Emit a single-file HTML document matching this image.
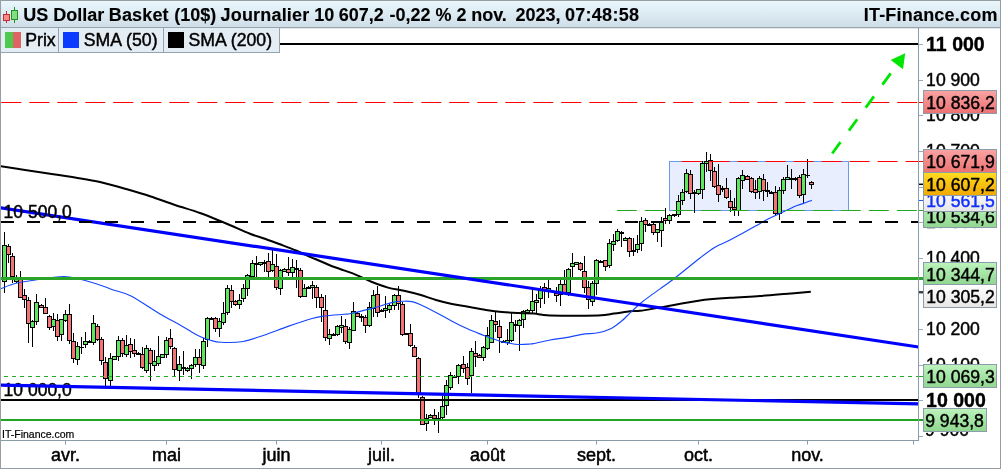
<!DOCTYPE html>
<html lang="fr"><head><meta charset="utf-8"><title>US Dollar Basket (10$) Journalier</title>
<style>
html,body{margin:0;padding:0;background:#fff;}
body{width:1001px;height:469px;overflow:hidden;}
svg{display:block;font-family:"Liberation Sans",Arial,Helvetica,sans-serif;}
.ax{font-size:17.6px;fill:#000;stroke:#000;stroke-width:0.45px;}
.axb{font-size:19.5px;font-weight:bold;fill:#000;stroke:#000;stroke-width:0.4px;}
.mo{font-size:18px;fill:#000;text-anchor:middle;stroke:#000;stroke-width:0.5px;}
.ttl{font-size:18px;font-weight:bold;fill:#000;letter-spacing:0.1px;stroke:#000;stroke-width:0.12px;}
.lg{font-size:17.7px;fill:#000;stroke:#000;stroke-width:0.45px;}
.pl{font-size:17.6px;fill:#000;stroke-width:0.45px;}
.sm{font-size:10.5px;fill:#000;stroke:#000;stroke-width:0.2px;}
</style></head><body>
<svg width="1001" height="469" viewBox="0 0 1001 469">
<defs>
<linearGradient id="gT" x1="0" y1="0" x2="0" y2="1"><stop offset="0" stop-color="#e9f7fd"/><stop offset="1" stop-color="#cfdde8"/></linearGradient>
<linearGradient id="gR" x1="0" y1="0" x2="0" y2="1"><stop offset="0" stop-color="#f9a3a3"/><stop offset="1" stop-color="#ee7272"/></linearGradient>
<linearGradient id="gG" x1="0" y1="0" x2="0" y2="1"><stop offset="0" stop-color="#bdf3bd"/><stop offset="1" stop-color="#8fd68f"/></linearGradient>
<linearGradient id="gO" x1="0" y1="0" x2="0" y2="1"><stop offset="0" stop-color="#ffdc22"/><stop offset="1" stop-color="#f2a800"/></linearGradient>
<linearGradient id="gW" x1="0" y1="0" x2="0" y2="1"><stop offset="0" stop-color="#ffffff"/><stop offset="1" stop-color="#e6e6e6"/></linearGradient>
<clipPath id="cp"><rect x="1" y="28" width="917.5" height="412.5"/></clipPath>
<clipPath id="cpa"><rect x="919" y="28" width="81" height="413"/></clipPath>
</defs>
<rect x="0" y="0" width="1001" height="469" fill="#ffffff"/>
<g clip-path="url(#cp)">
<rect x="669.5" y="161.5" width="179" height="49" fill="#e8eefd" stroke="#6a9af0" stroke-width="1"/>
<g stroke="#000" stroke-width="1" shape-rendering="crispEdges">
<line x1="4.5" y1="232" x2="4.5" y2="293"/>
<rect x="2.5" y="245.5" width="4" height="36.0" fill="#5fe65f"/>
<line x1="8.5" y1="244" x2="8.5" y2="263"/>
<rect x="6.5" y="246.5" width="4" height="8.0" fill="#f27474"/>
<line x1="12.5" y1="253" x2="12.5" y2="283"/>
<rect x="10.5" y="256.5" width="4" height="20.0" fill="#f27474"/>
<line x1="16.5" y1="275" x2="16.5" y2="283"/>
<rect x="14.5" y="278.5" width="4" height="3.0" fill="#5fe65f"/>
<line x1="20.5" y1="271" x2="20.5" y2="298"/>
<rect x="18.5" y="279.5" width="4" height="18.0" fill="#f27474"/>
<line x1="24.5" y1="289" x2="24.5" y2="308"/>
<rect x="22.5" y="295.5" width="4" height="4.0" fill="#f27474"/>
<line x1="28.5" y1="297" x2="28.5" y2="343"/>
<rect x="26.5" y="300.5" width="4" height="23.0" fill="#f27474"/>
<line x1="32.5" y1="320" x2="32.5" y2="347"/>
<rect x="30.5" y="321.5" width="4" height="6.0" fill="#5fe65f"/>
<line x1="36.5" y1="294" x2="36.5" y2="325"/>
<rect x="34.5" y="302.5" width="4" height="19.0" fill="#5fe65f"/>
<line x1="41.5" y1="304" x2="41.5" y2="308"/>
<rect x="39.5" y="305.5" width="4" height="2.0" fill="#f27474"/>
<line x1="45.5" y1="298" x2="45.5" y2="314"/>
<rect x="43.5" y="307.5" width="4" height="6.0" fill="#f27474"/>
<line x1="49.5" y1="315" x2="49.5" y2="330"/>
<rect x="47.5" y="316.5" width="4" height="11.0" fill="#f27474"/>
<line x1="53.5" y1="313" x2="53.5" y2="331"/>
<rect x="51.5" y="319.5" width="4" height="7.0" fill="#5fe65f"/>
<line x1="57.5" y1="314" x2="57.5" y2="341"/>
<rect x="55.5" y="320.5" width="4" height="16.0" fill="#f27474"/>
<line x1="61.5" y1="319" x2="61.5" y2="341"/>
<rect x="59.5" y="319.5" width="4" height="15.0" fill="#5fe65f"/>
<line x1="65.5" y1="310" x2="65.5" y2="322"/>
<rect x="63.5" y="314.5" width="4" height="6.0" fill="#5fe65f"/>
<line x1="69.5" y1="304" x2="69.5" y2="344"/>
<rect x="67.5" y="314.5" width="4" height="26.0" fill="#f27474"/>
<line x1="73.5" y1="333" x2="73.5" y2="363"/>
<rect x="71.5" y="341.5" width="4" height="17.0" fill="#f27474"/>
<line x1="77.5" y1="342" x2="77.5" y2="365"/>
<rect x="75.5" y="346.5" width="4" height="13.0" fill="#5fe65f"/>
<line x1="81.5" y1="337" x2="81.5" y2="354"/>
<line x1="79.0" y1="347.5" x2="84.0" y2="347.5"/>
<line x1="85.5" y1="332" x2="85.5" y2="348"/>
<rect x="83.5" y="341.5" width="4" height="3.0" fill="#5fe65f"/>
<line x1="89.5" y1="340" x2="89.5" y2="343"/>
<rect x="87.5" y="341.0" width="4" height="1" fill="#000"/>
<line x1="93.5" y1="315" x2="93.5" y2="345"/>
<rect x="91.5" y="323.5" width="4" height="19.0" fill="#5fe65f"/>
<line x1="97.5" y1="324" x2="97.5" y2="341"/>
<rect x="95.5" y="326.5" width="4" height="13.0" fill="#f27474"/>
<line x1="101.5" y1="337" x2="101.5" y2="365"/>
<rect x="99.5" y="339.5" width="4" height="21.0" fill="#f27474"/>
<line x1="105.5" y1="357" x2="105.5" y2="386"/>
<rect x="103.5" y="362.5" width="4" height="16.0" fill="#f27474"/>
<line x1="110.5" y1="353" x2="110.5" y2="386"/>
<rect x="108.5" y="358.5" width="4" height="22.0" fill="#5fe65f"/>
<line x1="114.5" y1="356" x2="114.5" y2="359"/>
<rect x="112.5" y="356.5" width="4" height="3.0" fill="#5fe65f"/>
<line x1="118.5" y1="336" x2="118.5" y2="361"/>
<rect x="116.5" y="340.5" width="4" height="16.0" fill="#5fe65f"/>
<line x1="122.5" y1="338" x2="122.5" y2="357"/>
<rect x="120.5" y="340.5" width="4" height="13.0" fill="#f27474"/>
<line x1="126.5" y1="335" x2="126.5" y2="357"/>
<rect x="124.5" y="345.5" width="4" height="9.0" fill="#5fe65f"/>
<line x1="130.5" y1="338" x2="130.5" y2="358"/>
<rect x="128.5" y="344.5" width="4" height="7.0" fill="#f27474"/>
<line x1="134.5" y1="339" x2="134.5" y2="357"/>
<rect x="132.5" y="350.5" width="4" height="3.0" fill="#f27474"/>
<line x1="138.5" y1="352" x2="138.5" y2="355"/>
<rect x="136.5" y="353.0" width="4" height="1" fill="#000"/>
<line x1="142.5" y1="347" x2="142.5" y2="369"/>
<rect x="140.5" y="354.5" width="4" height="13.0" fill="#f27474"/>
<line x1="146.5" y1="345" x2="146.5" y2="373"/>
<rect x="144.5" y="348.5" width="4" height="22.0" fill="#5fe65f"/>
<line x1="150.5" y1="348" x2="150.5" y2="381"/>
<rect x="148.5" y="350.5" width="4" height="13.0" fill="#f27474"/>
<line x1="154.5" y1="350" x2="154.5" y2="371"/>
<rect x="152.5" y="361.5" width="4" height="4.0" fill="#5fe65f"/>
<line x1="158.5" y1="336" x2="158.5" y2="366"/>
<rect x="156.5" y="356.5" width="4" height="7.0" fill="#5fe65f"/>
<line x1="162.5" y1="354" x2="162.5" y2="358"/>
<rect x="160.5" y="354.5" width="4" height="3.0" fill="#5fe65f"/>
<line x1="166.5" y1="337" x2="166.5" y2="358"/>
<rect x="164.5" y="340.5" width="4" height="14.0" fill="#5fe65f"/>
<line x1="170.5" y1="329" x2="170.5" y2="349"/>
<rect x="168.5" y="338.5" width="4" height="8.0" fill="#f27474"/>
<line x1="174.5" y1="347" x2="174.5" y2="377"/>
<rect x="172.5" y="348.5" width="4" height="21.0" fill="#f27474"/>
<line x1="179.5" y1="356" x2="179.5" y2="381"/>
<rect x="177.5" y="364.5" width="4" height="6.0" fill="#5fe65f"/>
<line x1="183.5" y1="351" x2="183.5" y2="375"/>
<rect x="181.5" y="367.0" width="4" height="1" fill="#000"/>
<line x1="187.5" y1="367" x2="187.5" y2="372"/>
<rect x="185.5" y="368.5" width="4" height="2.0" fill="#5fe65f"/>
<line x1="191.5" y1="364" x2="191.5" y2="379"/>
<rect x="189.5" y="365.5" width="4" height="3.0" fill="#5fe65f"/>
<line x1="195.5" y1="349" x2="195.5" y2="367"/>
<rect x="193.5" y="357.5" width="4" height="7.0" fill="#5fe65f"/>
<line x1="199.5" y1="349" x2="199.5" y2="373"/>
<rect x="197.5" y="357.5" width="4" height="7.0" fill="#f27474"/>
<line x1="203.5" y1="338" x2="203.5" y2="369"/>
<rect x="201.5" y="341.5" width="4" height="24.0" fill="#5fe65f"/>
<line x1="207.5" y1="317" x2="207.5" y2="347"/>
<rect x="205.5" y="318.5" width="4" height="21.0" fill="#5fe65f"/>
<line x1="211.5" y1="317" x2="211.5" y2="320"/>
<rect x="209.5" y="318.0" width="4" height="1" fill="#000"/>
<line x1="215.5" y1="317" x2="215.5" y2="332"/>
<rect x="213.5" y="318.5" width="4" height="10.0" fill="#f27474"/>
<line x1="219.5" y1="318" x2="219.5" y2="337"/>
<rect x="217.5" y="321.5" width="4" height="7.0" fill="#5fe65f"/>
<line x1="223.5" y1="302" x2="223.5" y2="325"/>
<rect x="221.5" y="313.5" width="4" height="9.0" fill="#5fe65f"/>
<line x1="227.5" y1="285" x2="227.5" y2="315"/>
<rect x="225.5" y="288.5" width="4" height="24.0" fill="#5fe65f"/>
<line x1="231.5" y1="285" x2="231.5" y2="308"/>
<rect x="229.5" y="290.5" width="4" height="11.0" fill="#f27474"/>
<line x1="235.5" y1="300" x2="235.5" y2="306"/>
<rect x="233.5" y="301.5" width="4" height="3.0" fill="#f27474"/>
<line x1="239.5" y1="294" x2="239.5" y2="309"/>
<rect x="237.5" y="300.5" width="4" height="4.0" fill="#5fe65f"/>
<line x1="243.5" y1="284" x2="243.5" y2="302"/>
<rect x="241.5" y="288.5" width="4" height="10.0" fill="#5fe65f"/>
<line x1="247.5" y1="274" x2="247.5" y2="296"/>
<rect x="245.5" y="275.5" width="4" height="13.0" fill="#5fe65f"/>
<line x1="252.5" y1="260" x2="252.5" y2="277"/>
<rect x="250.5" y="263.5" width="4" height="13.0" fill="#5fe65f"/>
<line x1="256.5" y1="256" x2="256.5" y2="277"/>
<rect x="254.5" y="263.0" width="4" height="1" fill="#000"/>
<line x1="260.5" y1="262" x2="260.5" y2="266"/>
<rect x="258.5" y="262.5" width="4" height="2.0" fill="#5fe65f"/>
<line x1="264.5" y1="260" x2="264.5" y2="272"/>
<rect x="262.5" y="262.0" width="4" height="1" fill="#000"/>
<line x1="268.5" y1="253" x2="268.5" y2="277"/>
<rect x="266.5" y="261.5" width="4" height="10.0" fill="#f27474"/>
<line x1="272.5" y1="250" x2="272.5" y2="272"/>
<rect x="270.5" y="264.5" width="4" height="6.0" fill="#5fe65f"/>
<line x1="276.5" y1="254" x2="276.5" y2="290"/>
<rect x="274.5" y="266.5" width="4" height="21.0" fill="#f27474"/>
<line x1="280.5" y1="269" x2="280.5" y2="295"/>
<rect x="278.5" y="270.5" width="4" height="18.0" fill="#5fe65f"/>
<line x1="284.5" y1="268" x2="284.5" y2="272"/>
<rect x="282.5" y="269.5" width="4" height="2.0" fill="#5fe65f"/>
<line x1="288.5" y1="257" x2="288.5" y2="276"/>
<rect x="286.5" y="269.5" width="4" height="3.0" fill="#f27474"/>
<line x1="292.5" y1="259" x2="292.5" y2="277"/>
<rect x="290.5" y="267.5" width="4" height="5.0" fill="#5fe65f"/>
<line x1="296.5" y1="260" x2="296.5" y2="288"/>
<rect x="294.5" y="268.0" width="4" height="1" fill="#000"/>
<line x1="300.5" y1="268" x2="300.5" y2="298"/>
<rect x="298.5" y="270.5" width="4" height="26.0" fill="#f27474"/>
<line x1="304.5" y1="284" x2="304.5" y2="297"/>
<rect x="302.5" y="288.5" width="4" height="8.0" fill="#5fe65f"/>
<line x1="308.5" y1="286" x2="308.5" y2="289"/>
<rect x="306.5" y="287.0" width="4" height="1" fill="#000"/>
<line x1="312.5" y1="281" x2="312.5" y2="299"/>
<rect x="310.5" y="285.5" width="4" height="2.0" fill="#5fe65f"/>
<line x1="316.5" y1="285" x2="316.5" y2="308"/>
<rect x="314.5" y="287.5" width="4" height="10.0" fill="#f27474"/>
<line x1="321.5" y1="294" x2="321.5" y2="322"/>
<rect x="319.5" y="297.5" width="4" height="10.0" fill="#f27474"/>
<line x1="325.5" y1="295" x2="325.5" y2="341"/>
<rect x="323.5" y="310.5" width="4" height="27.0" fill="#f27474"/>
<line x1="329.5" y1="329" x2="329.5" y2="345"/>
<rect x="327.5" y="334.5" width="4" height="4.0" fill="#5fe65f"/>
<line x1="333.5" y1="333" x2="333.5" y2="336"/>
<rect x="331.5" y="334.0" width="4" height="1" fill="#000"/>
<line x1="337.5" y1="325" x2="337.5" y2="336"/>
<rect x="335.5" y="326.5" width="4" height="8.0" fill="#5fe65f"/>
<line x1="341.5" y1="316" x2="341.5" y2="333"/>
<rect x="339.5" y="325.5" width="4" height="2.0" fill="#5fe65f"/>
<line x1="345.5" y1="319" x2="345.5" y2="344"/>
<rect x="343.5" y="326.5" width="4" height="15.0" fill="#f27474"/>
<line x1="349.5" y1="327" x2="349.5" y2="349"/>
<rect x="347.5" y="329.5" width="4" height="13.0" fill="#5fe65f"/>
<line x1="353.5" y1="302" x2="353.5" y2="331"/>
<rect x="351.5" y="311.5" width="4" height="19.0" fill="#5fe65f"/>
<line x1="357.5" y1="312" x2="357.5" y2="317"/>
<rect x="355.5" y="313.5" width="4" height="3.0" fill="#f27474"/>
<line x1="361.5" y1="314" x2="361.5" y2="322"/>
<rect x="359.5" y="316.0" width="4" height="1" fill="#000"/>
<line x1="365.5" y1="315" x2="365.5" y2="333"/>
<rect x="363.5" y="317.5" width="4" height="8.0" fill="#f27474"/>
<line x1="369.5" y1="302" x2="369.5" y2="327"/>
<rect x="367.5" y="307.5" width="4" height="18.0" fill="#5fe65f"/>
<line x1="373.5" y1="290" x2="373.5" y2="317"/>
<rect x="371.5" y="295.5" width="4" height="13.0" fill="#5fe65f"/>
<line x1="377.5" y1="286" x2="377.5" y2="317"/>
<rect x="375.5" y="294.5" width="4" height="18.0" fill="#f27474"/>
<line x1="381.5" y1="309" x2="381.5" y2="312"/>
<rect x="379.5" y="310.0" width="4" height="1" fill="#000"/>
<line x1="385.5" y1="296" x2="385.5" y2="318"/>
<rect x="383.5" y="308.5" width="4" height="2.0" fill="#5fe65f"/>
<line x1="389.5" y1="304" x2="389.5" y2="313"/>
<rect x="387.5" y="305.5" width="4" height="4.0" fill="#5fe65f"/>
<line x1="394.5" y1="294" x2="394.5" y2="310"/>
<rect x="392.5" y="295.5" width="4" height="10.0" fill="#5fe65f"/>
<line x1="398.5" y1="286" x2="398.5" y2="310"/>
<rect x="396.5" y="295.5" width="4" height="8.0" fill="#f27474"/>
<line x1="402.5" y1="302" x2="402.5" y2="336"/>
<rect x="400.5" y="304.5" width="4" height="30.0" fill="#f27474"/>
<line x1="406.5" y1="333" x2="406.5" y2="335"/>
<rect x="404.5" y="333.0" width="4" height="1" fill="#000"/>
<line x1="410.5" y1="324" x2="410.5" y2="347"/>
<rect x="408.5" y="333.5" width="4" height="12.0" fill="#f27474"/>
<line x1="414.5" y1="345" x2="414.5" y2="357"/>
<rect x="412.5" y="347.5" width="4" height="9.0" fill="#f27474"/>
<line x1="418.5" y1="357" x2="418.5" y2="398"/>
<rect x="416.5" y="358.5" width="4" height="35.0" fill="#f27474"/>
<line x1="422.5" y1="396" x2="422.5" y2="425"/>
<rect x="420.5" y="397.5" width="4" height="27.0" fill="#f27474"/>
<line x1="426.5" y1="414" x2="426.5" y2="431"/>
<rect x="424.5" y="418.5" width="4" height="5.0" fill="#5fe65f"/>
<line x1="430.5" y1="414" x2="430.5" y2="418"/>
<rect x="428.5" y="415.5" width="4" height="2.0" fill="#5fe65f"/>
<line x1="434.5" y1="409" x2="434.5" y2="425"/>
<rect x="432.5" y="415.5" width="4" height="3.0" fill="#f27474"/>
<line x1="438.5" y1="412" x2="438.5" y2="433"/>
<rect x="436.5" y="418.0" width="4" height="1" fill="#000"/>
<line x1="442.5" y1="396" x2="442.5" y2="420"/>
<rect x="440.5" y="406.5" width="4" height="11.0" fill="#5fe65f"/>
<line x1="446.5" y1="380" x2="446.5" y2="415"/>
<rect x="444.5" y="385.5" width="4" height="20.0" fill="#5fe65f"/>
<line x1="450.5" y1="372" x2="450.5" y2="390"/>
<rect x="448.5" y="375.5" width="4" height="12.0" fill="#5fe65f"/>
<line x1="454.5" y1="375" x2="454.5" y2="378"/>
<rect x="452.5" y="376.0" width="4" height="1" fill="#000"/>
<line x1="458.5" y1="364" x2="458.5" y2="384"/>
<rect x="456.5" y="365.5" width="4" height="11.0" fill="#5fe65f"/>
<line x1="463.5" y1="356" x2="463.5" y2="373"/>
<rect x="461.5" y="364.5" width="4" height="4.0" fill="#f27474"/>
<line x1="467.5" y1="363" x2="467.5" y2="385"/>
<rect x="465.5" y="367.5" width="4" height="11.0" fill="#f27474"/>
<line x1="471.5" y1="348" x2="471.5" y2="393"/>
<rect x="469.5" y="351.5" width="4" height="24.0" fill="#5fe65f"/>
<line x1="475.5" y1="341" x2="475.5" y2="367"/>
<rect x="473.5" y="353.5" width="4" height="3.0" fill="#f27474"/>
<line x1="479.5" y1="354" x2="479.5" y2="358"/>
<rect x="477.5" y="355.5" width="4" height="2.0" fill="#f27474"/>
<line x1="483.5" y1="346" x2="483.5" y2="361"/>
<rect x="481.5" y="347.5" width="4" height="10.0" fill="#5fe65f"/>
<line x1="487.5" y1="327" x2="487.5" y2="350"/>
<rect x="485.5" y="335.5" width="4" height="13.0" fill="#5fe65f"/>
<line x1="491.5" y1="315" x2="491.5" y2="343"/>
<rect x="489.5" y="320.5" width="4" height="22.0" fill="#5fe65f"/>
<line x1="495.5" y1="311" x2="495.5" y2="332"/>
<rect x="493.5" y="321.5" width="4" height="3.0" fill="#f27474"/>
<line x1="499.5" y1="320" x2="499.5" y2="353"/>
<rect x="497.5" y="326.5" width="4" height="11.0" fill="#f27474"/>
<line x1="503.5" y1="340" x2="503.5" y2="343"/>
<rect x="501.5" y="341.0" width="4" height="1" fill="#000"/>
<line x1="507.5" y1="329" x2="507.5" y2="345"/>
<rect x="505.5" y="340.5" width="4" height="2.0" fill="#5fe65f"/>
<line x1="511.5" y1="313" x2="511.5" y2="342"/>
<rect x="509.5" y="322.5" width="4" height="18.0" fill="#5fe65f"/>
<line x1="515.5" y1="320" x2="515.5" y2="332"/>
<rect x="513.5" y="324.0" width="4" height="1" fill="#000"/>
<line x1="519.5" y1="319" x2="519.5" y2="351"/>
<rect x="517.5" y="320.5" width="4" height="5.0" fill="#5fe65f"/>
<line x1="523.5" y1="310" x2="523.5" y2="328"/>
<rect x="521.5" y="311.5" width="4" height="8.0" fill="#5fe65f"/>
<line x1="527.5" y1="309" x2="527.5" y2="313"/>
<rect x="525.5" y="310.5" width="4" height="2.0" fill="#5fe65f"/>
<line x1="532.5" y1="289" x2="532.5" y2="314"/>
<rect x="530.5" y="301.5" width="4" height="9.0" fill="#5fe65f"/>
<line x1="536.5" y1="294" x2="536.5" y2="314"/>
<rect x="534.5" y="300.5" width="4" height="2.0" fill="#5fe65f"/>
<line x1="540.5" y1="286" x2="540.5" y2="308"/>
<rect x="538.5" y="290.5" width="4" height="8.0" fill="#5fe65f"/>
<line x1="544.5" y1="283" x2="544.5" y2="304"/>
<rect x="542.5" y="287.5" width="4" height="2.0" fill="#f27474"/>
<line x1="548.5" y1="279" x2="548.5" y2="298"/>
<rect x="546.5" y="288.5" width="4" height="2.0" fill="#5fe65f"/>
<line x1="556.5" y1="287" x2="556.5" y2="302"/>
<rect x="554.5" y="293.5" width="4" height="2.0" fill="#f27474"/>
<line x1="560.5" y1="279" x2="560.5" y2="306"/>
<rect x="558.5" y="284.5" width="4" height="10.0" fill="#5fe65f"/>
<line x1="564.5" y1="270" x2="564.5" y2="294"/>
<rect x="562.5" y="284.5" width="4" height="8.0" fill="#f27474"/>
<line x1="568.5" y1="268" x2="568.5" y2="296"/>
<rect x="566.5" y="269.5" width="4" height="23.0" fill="#5fe65f"/>
<line x1="572.5" y1="253" x2="572.5" y2="277"/>
<rect x="570.5" y="263.5" width="4" height="3.0" fill="#5fe65f"/>
<line x1="576.5" y1="262" x2="576.5" y2="265"/>
<rect x="574.5" y="262.5" width="4" height="2.0" fill="#5fe65f"/>
<line x1="580.5" y1="262" x2="580.5" y2="271"/>
<rect x="578.5" y="263.5" width="4" height="6.0" fill="#f27474"/>
<line x1="584.5" y1="256" x2="584.5" y2="293"/>
<rect x="582.5" y="271.5" width="4" height="16.0" fill="#f27474"/>
<line x1="588.5" y1="281" x2="588.5" y2="309"/>
<rect x="586.5" y="287.5" width="4" height="12.0" fill="#f27474"/>
<line x1="592.5" y1="281" x2="592.5" y2="306"/>
<rect x="590.5" y="283.5" width="4" height="18.0" fill="#5fe65f"/>
<line x1="596.5" y1="259" x2="596.5" y2="295"/>
<rect x="594.5" y="260.5" width="4" height="23.0" fill="#5fe65f"/>
<line x1="600.5" y1="260" x2="600.5" y2="262"/>
<rect x="598.5" y="261.0" width="4" height="1" fill="#000"/>
<line x1="605.5" y1="260" x2="605.5" y2="271"/>
<rect x="603.5" y="260.5" width="4" height="6.0" fill="#f27474"/>
<line x1="609.5" y1="239" x2="609.5" y2="268"/>
<rect x="607.5" y="243.5" width="4" height="22.0" fill="#5fe65f"/>
<line x1="613.5" y1="234" x2="613.5" y2="251"/>
<rect x="611.5" y="241.5" width="4" height="3.0" fill="#5fe65f"/>
<line x1="617.5" y1="229" x2="617.5" y2="242"/>
<rect x="615.5" y="231.5" width="4" height="9.0" fill="#5fe65f"/>
<line x1="621.5" y1="231" x2="621.5" y2="247"/>
<rect x="619.5" y="232.0" width="4" height="1" fill="#000"/>
<line x1="625.5" y1="237" x2="625.5" y2="241"/>
<rect x="623.5" y="238.5" width="4" height="2.0" fill="#5fe65f"/>
<line x1="629.5" y1="237" x2="629.5" y2="257"/>
<rect x="627.5" y="238.5" width="4" height="13.0" fill="#f27474"/>
<line x1="633.5" y1="238" x2="633.5" y2="256"/>
<rect x="631.5" y="250.0" width="4" height="1" fill="#000"/>
<line x1="637.5" y1="235" x2="637.5" y2="253"/>
<rect x="635.5" y="244.5" width="4" height="5.0" fill="#5fe65f"/>
<line x1="641.5" y1="217" x2="641.5" y2="251"/>
<rect x="639.5" y="221.5" width="4" height="22.0" fill="#5fe65f"/>
<line x1="645.5" y1="218" x2="645.5" y2="232"/>
<rect x="643.5" y="220.5" width="4" height="4.0" fill="#f27474"/>
<line x1="649.5" y1="223" x2="649.5" y2="225"/>
<rect x="647.5" y="224.0" width="4" height="1" fill="#000"/>
<line x1="653.5" y1="221" x2="653.5" y2="235"/>
<rect x="651.5" y="224.5" width="4" height="8.0" fill="#f27474"/>
<line x1="657.5" y1="229" x2="657.5" y2="242"/>
<rect x="655.5" y="229.5" width="4" height="3.0" fill="#5fe65f"/>
<line x1="661.5" y1="217" x2="661.5" y2="247"/>
<rect x="659.5" y="222.5" width="4" height="8.0" fill="#5fe65f"/>
<line x1="665.5" y1="208" x2="665.5" y2="224"/>
<rect x="663.5" y="218.5" width="4" height="2.0" fill="#f27474"/>
<line x1="669.5" y1="214" x2="669.5" y2="224"/>
<rect x="667.5" y="215.5" width="4" height="5.0" fill="#5fe65f"/>
<line x1="674.5" y1="214" x2="674.5" y2="217"/>
<rect x="672.5" y="214.0" width="4" height="1" fill="#000"/>
<line x1="678.5" y1="195" x2="678.5" y2="217"/>
<rect x="676.5" y="201.5" width="4" height="13.0" fill="#5fe65f"/>
<line x1="682.5" y1="189" x2="682.5" y2="205"/>
<rect x="680.5" y="192.5" width="4" height="8.0" fill="#5fe65f"/>
<line x1="686.5" y1="169" x2="686.5" y2="193"/>
<rect x="684.5" y="173.5" width="4" height="18.0" fill="#5fe65f"/>
<line x1="690.5" y1="170" x2="690.5" y2="199"/>
<rect x="688.5" y="174.5" width="4" height="19.0" fill="#f27474"/>
<line x1="694.5" y1="190" x2="694.5" y2="213"/>
<rect x="692.5" y="192.0" width="4" height="1" fill="#000"/>
<line x1="698.5" y1="189" x2="698.5" y2="195"/>
<rect x="696.5" y="189.5" width="4" height="4.0" fill="#5fe65f"/>
<line x1="702.5" y1="161" x2="702.5" y2="199"/>
<rect x="700.5" y="163.5" width="4" height="26.0" fill="#5fe65f"/>
<line x1="706.5" y1="152" x2="706.5" y2="172"/>
<rect x="704.5" y="161.5" width="4" height="2.0" fill="#5fe65f"/>
<line x1="710.5" y1="154" x2="710.5" y2="181"/>
<rect x="708.5" y="160.5" width="4" height="10.0" fill="#f27474"/>
<line x1="714.5" y1="167" x2="714.5" y2="188"/>
<rect x="712.5" y="171.5" width="4" height="15.0" fill="#f27474"/>
<line x1="718.5" y1="164" x2="718.5" y2="202"/>
<rect x="716.5" y="185.5" width="4" height="9.0" fill="#f27474"/>
<line x1="722.5" y1="186" x2="722.5" y2="192"/>
<rect x="720.5" y="188.0" width="4" height="1" fill="#000"/>
<line x1="726.5" y1="178" x2="726.5" y2="199"/>
<rect x="724.5" y="188.5" width="4" height="9.0" fill="#f27474"/>
<line x1="730.5" y1="190" x2="730.5" y2="212"/>
<rect x="728.5" y="201.5" width="4" height="6.0" fill="#f27474"/>
<line x1="734.5" y1="198" x2="734.5" y2="216"/>
<rect x="732.5" y="207.5" width="4" height="2.0" fill="#f27474"/>
<line x1="738.5" y1="177" x2="738.5" y2="216"/>
<rect x="736.5" y="178.5" width="4" height="32.0" fill="#5fe65f"/>
<line x1="742.5" y1="170" x2="742.5" y2="189"/>
<rect x="740.5" y="175.5" width="4" height="5.0" fill="#5fe65f"/>
<line x1="747.5" y1="175" x2="747.5" y2="180"/>
<rect x="745.5" y="176.5" width="4" height="3.0" fill="#f27474"/>
<line x1="751.5" y1="177" x2="751.5" y2="193"/>
<rect x="749.5" y="178.5" width="4" height="13.0" fill="#f27474"/>
<line x1="755.5" y1="180" x2="755.5" y2="199"/>
<rect x="753.5" y="189.5" width="4" height="3.0" fill="#f27474"/>
<line x1="759.5" y1="176" x2="759.5" y2="199"/>
<rect x="757.5" y="178.5" width="4" height="13.0" fill="#5fe65f"/>
<line x1="763.5" y1="174" x2="763.5" y2="201"/>
<rect x="761.5" y="179.5" width="4" height="11.0" fill="#f27474"/>
<line x1="767.5" y1="182" x2="767.5" y2="197"/>
<rect x="765.5" y="190.0" width="4" height="1" fill="#000"/>
<line x1="771.5" y1="191" x2="771.5" y2="194"/>
<rect x="769.5" y="192.0" width="4" height="1" fill="#000"/>
<line x1="775.5" y1="186" x2="775.5" y2="215"/>
<rect x="773.5" y="192.5" width="4" height="21.0" fill="#f27474"/>
<line x1="779.5" y1="187" x2="779.5" y2="220"/>
<rect x="777.5" y="190.5" width="4" height="23.0" fill="#5fe65f"/>
<line x1="783.5" y1="177" x2="783.5" y2="194"/>
<rect x="781.5" y="179.5" width="4" height="11.0" fill="#5fe65f"/>
<line x1="787.5" y1="165" x2="787.5" y2="180"/>
<rect x="785.5" y="177.5" width="4" height="2.0" fill="#5fe65f"/>
<line x1="791.5" y1="169" x2="791.5" y2="189"/>
<rect x="789.5" y="178.0" width="4" height="1" fill="#000"/>
<line x1="795.5" y1="177" x2="795.5" y2="181"/>
<rect x="793.5" y="178.0" width="4" height="1" fill="#000"/>
<line x1="799.5" y1="175" x2="799.5" y2="198"/>
<rect x="797.5" y="177.5" width="4" height="18.0" fill="#f27474"/>
<line x1="803.5" y1="169" x2="803.5" y2="203"/>
<rect x="801.5" y="174.5" width="4" height="20.0" fill="#5fe65f"/>
<line x1="807.5" y1="159" x2="807.5" y2="178"/>
<line x1="805.0" y1="175.5" x2="810.0" y2="175.5"/>
<line x1="811.5" y1="181" x2="811.5" y2="189"/>
<rect x="809.5" y="182.5" width="4" height="2.0" fill="#f27474"/>
</g>
<path d="M0.0,166.2 C4.2,166.8 16.7,168.8 25.0,170.0 C33.3,171.2 41.7,172.4 50.0,173.7 C58.3,174.9 66.7,176.1 75.0,177.5 C83.3,178.9 91.7,180.1 100.0,182.0 C108.3,183.9 116.7,186.3 125.0,188.7 C133.3,191.1 141.7,193.5 150.0,196.2 C158.3,198.9 166.7,202.2 175.0,205.0 C183.3,207.8 191.7,210.0 200.0,213.0 C208.3,216.0 216.7,219.6 225.0,223.0 C233.3,226.4 243.5,231.1 250.0,233.7 C256.5,236.3 259.0,236.7 264.0,238.5 C269.0,240.3 274.7,242.3 280.0,244.3 C285.3,246.3 290.6,248.2 296.0,250.5 C301.4,252.8 307.1,255.5 312.4,257.8 C317.7,260.1 323.4,262.6 328.0,264.5 C332.6,266.4 335.3,267.3 340.0,269.0 C344.7,270.7 350.7,272.6 356.0,274.8 C361.3,277.0 366.7,279.9 372.0,282.0 C377.3,284.1 382.7,286.1 388.0,287.6 C393.3,289.1 398.7,289.6 404.0,290.8 C409.3,292.0 414.7,293.3 420.0,294.8 C425.3,296.3 430.7,298.5 436.0,300.0 C441.3,301.5 446.7,302.9 452.0,304.0 C457.3,305.1 462.3,305.8 468.0,306.8 C473.7,307.8 480.3,309.0 486.0,309.9 C491.7,310.8 496.7,311.5 502.0,312.0 C507.3,312.5 512.7,312.8 518.0,313.1 C523.3,313.4 528.7,313.2 534.0,313.6 C539.3,314.0 539.3,315.1 550.0,315.4 C560.7,315.7 587.3,315.7 598.0,315.4 C608.7,315.1 608.7,314.3 614.0,313.6 C619.3,312.9 625.7,311.7 630.0,311.2 C634.3,310.7 635.0,311.4 640.0,310.8 C645.0,310.2 650.0,309.2 660.0,307.5 C670.0,305.8 688.3,302.1 700.0,300.5 C711.7,298.9 720.0,298.6 730.0,297.8 C740.0,297.1 750.0,296.7 760.0,296.0 C770.0,295.3 781.5,294.2 790.0,293.5 C798.5,292.8 807.3,292.1 810.8,291.8" fill="none" stroke="#000" stroke-width="2" stroke-linejoin="round"/>
<path d="M0.0,289.0 C2.7,288.1 9.3,284.9 16.0,283.3 C22.7,281.7 32.0,280.4 40.0,279.3 C48.0,278.2 57.3,276.5 64.0,276.5 C70.7,276.5 73.7,277.8 80.0,279.3 C86.3,280.8 96.7,284.0 102.0,285.7 C107.3,287.4 107.2,287.8 112.0,289.5 C116.8,291.2 123.0,291.9 131.0,296.0 C139.0,300.1 151.8,309.2 160.0,314.0 C168.2,318.8 174.7,322.0 180.0,325.0 C185.3,328.0 188.7,330.3 192.0,332.2 C195.3,334.1 197.1,335.1 200.0,336.4 C202.9,337.7 206.1,339.0 209.6,340.0 C213.1,341.0 215.2,342.1 220.8,342.3 C226.4,342.6 236.0,342.7 243.2,341.5 C250.4,340.3 256.5,337.7 264.0,335.2 C271.5,332.7 280.0,329.2 288.0,326.4 C296.0,323.6 305.9,320.2 312.0,318.5 C318.1,316.8 319.4,316.7 324.7,316.0 C330.0,315.3 339.6,314.7 344.0,314.3 C348.4,313.9 346.3,314.5 351.0,313.5 C355.7,312.5 365.1,310.2 372.0,308.4 C378.9,306.5 387.4,303.6 392.7,302.4 C398.0,301.2 400.8,301.3 404.0,301.2 C407.2,301.1 409.3,301.1 412.0,301.6 C414.7,302.1 416.0,302.6 420.0,304.4 C424.0,306.2 430.7,309.6 436.0,312.4 C441.3,315.2 446.7,318.4 452.0,321.2 C457.3,324.0 462.7,326.7 468.0,329.1 C473.3,331.5 480.0,333.9 484.0,335.5 C488.0,337.1 489.0,337.3 492.0,338.4 C495.0,339.5 499.3,341.1 502.0,341.9 C504.7,342.6 505.3,342.5 508.0,342.9 C510.7,343.3 514.3,344.3 518.0,344.5 C521.7,344.7 527.3,344.2 530.0,344.0 C532.7,343.8 530.7,344.2 534.0,343.5 C537.3,342.8 544.7,341.0 550.0,340.0 C555.3,339.0 560.7,338.5 566.0,337.6 C571.3,336.7 576.7,335.2 582.0,334.4 C587.3,333.6 593.2,333.7 598.0,332.8 C602.8,331.9 606.7,330.8 610.7,328.8 C614.7,326.8 619.0,323.1 621.9,320.8 C624.8,318.5 624.7,318.1 628.0,315.0 C631.3,311.9 636.2,306.9 641.5,302.5 C646.8,298.1 654.8,292.7 660.0,288.9 C665.2,285.1 666.3,284.6 673.0,279.5 C679.7,274.4 693.0,263.4 700.0,258.0 C707.0,252.6 710.0,250.2 715.0,247.2 C720.0,244.2 723.2,243.7 730.0,240.1 C736.8,236.5 750.0,229.2 756.0,225.8 C762.0,222.5 760.9,222.7 766.3,220.0 C771.7,217.3 783.5,211.9 788.3,209.6 C793.1,207.3 792.7,207.2 795.2,206.2 C797.8,205.2 800.8,204.4 803.6,203.4 C806.4,202.4 810.5,200.7 811.9,200.2" fill="none" stroke="#1446ff" stroke-width="1.15" stroke-linejoin="round"/>
<line x1="1" y1="44" x2="919" y2="44" stroke="#000" stroke-width="2"/>
<line x1="1.3" y1="102.5" x2="919" y2="102.5" stroke="#ff0000" stroke-width="1" stroke-dasharray="20 8"/>
<line x1="681.6" y1="161.5" x2="919" y2="161.5" stroke="#ff0000" stroke-width="1" stroke-dasharray="20 8"/>
<line x1="616.8" y1="210.5" x2="919" y2="210.5" stroke="#22aa22" stroke-width="1" stroke-dasharray="20 8"/>
<line x1="-4" y1="376.5" x2="919" y2="376.5" stroke="#22aa22" stroke-width="1" stroke-dasharray="4 4"/>
<line x1="1" y1="400" x2="919" y2="400" stroke="#000" stroke-width="2"/>
<line x1="1" y1="420" x2="919" y2="420" stroke="#22a522" stroke-width="2"/>
<line x1="1" y1="278.5" x2="919" y2="278.5" stroke="#2aa52a" stroke-width="3"/>
<text class="lg" x="3.6" y="395.6" style="font-size:17.5px">10 000,0</text>
<line x1="0" y1="207.7" x2="918.5" y2="347" stroke="#0000ff" stroke-width="3.2"/>
<line x1="1" y1="222" x2="919" y2="222" stroke="#000" stroke-width="2" stroke-dasharray="13 13"/>
<text class="lg" x="3.6" y="218" style="font-size:17.5px">10 500,0</text>
<line x1="0" y1="385.2" x2="918.5" y2="403.9" stroke="#0000ff" stroke-width="3.2"/>
<line x1="832.2" y1="153.5" x2="899" y2="62" stroke="#00e600" stroke-width="2.8" stroke-dasharray="14 14.4"/>
<polygon points="905.2,53.2 890.7,60 903,69.3" fill="#00e600"/>
</g>
<text class="sm" x="2" y="437.8">IT-Finance.com</text>
<line x1="918.5" y1="28" x2="918.5" y2="441" stroke="#8a9ba8" stroke-width="1"/>
<line x1="1" y1="440.5" x2="919" y2="440.5" stroke="#8a9ba8" stroke-width="1"/>
<line x1="65.5" y1="441" x2="65.5" y2="444.5" stroke="#8a9ba8" stroke-width="1"/>
<text class="mo" x="65.5" y="460.7">avr.</text>
<line x1="166.5" y1="441" x2="166.5" y2="444.5" stroke="#8a9ba8" stroke-width="1"/>
<text class="mo" x="166.5" y="460.7">mai</text>
<line x1="276.5" y1="441" x2="276.5" y2="444.5" stroke="#8a9ba8" stroke-width="1"/>
<text class="mo" x="276.5" y="460.7">juin</text>
<line x1="381.5" y1="441" x2="381.5" y2="444.5" stroke="#8a9ba8" stroke-width="1"/>
<text class="mo" x="381.5" y="460.7">juil.</text>
<line x1="487.5" y1="441" x2="487.5" y2="444.5" stroke="#8a9ba8" stroke-width="1"/>
<text class="mo" x="487.5" y="460.7">août</text>
<line x1="596.5" y1="441" x2="596.5" y2="444.5" stroke="#8a9ba8" stroke-width="1"/>
<text class="mo" x="596.5" y="460.7">sept.</text>
<line x1="698.5" y1="441" x2="698.5" y2="444.5" stroke="#8a9ba8" stroke-width="1"/>
<text class="mo" x="698.5" y="460.7">oct.</text>
<line x1="807.5" y1="441" x2="807.5" y2="444.5" stroke="#8a9ba8" stroke-width="1"/>
<text class="mo" x="807.5" y="460.7">nov.</text>
<line x1="913.5" y1="441" x2="913.5" y2="444.5" stroke="#8a9ba8" stroke-width="1"/>
<g clip-path="url(#cpa)">
<line x1="919" y1="436.5" x2="923" y2="436.5" stroke="#9badb9" stroke-width="1"/>
<text class="ax" x="925.1" y="435.7">9 900</text>
<line x1="919" y1="400.5" x2="923" y2="400.5" stroke="#9badb9" stroke-width="1"/>
<text class="axb" x="926.1" y="406.7">10 000</text>
<line x1="919" y1="365.5" x2="923" y2="365.5" stroke="#9badb9" stroke-width="1"/>
<text class="ax" x="926.1" y="370.8">10 100</text>
<line x1="919" y1="329.5" x2="923" y2="329.5" stroke="#9badb9" stroke-width="1"/>
<text class="ax" x="926.1" y="334.8">10 200</text>
<line x1="919" y1="293.5" x2="923" y2="293.5" stroke="#9badb9" stroke-width="1"/>
<text class="ax" x="926.1" y="298.8">10 300</text>
<line x1="919" y1="258.5" x2="923" y2="258.5" stroke="#9badb9" stroke-width="1"/>
<text class="ax" x="926.1" y="263.8">10 400</text>
<line x1="919" y1="222.5" x2="923" y2="222.5" stroke="#9badb9" stroke-width="1"/>
<text class="ax" x="926.1" y="227.8">10 500</text>
<line x1="919" y1="187.5" x2="923" y2="187.5" stroke="#9badb9" stroke-width="1"/>
<text class="ax" x="926.1" y="192.8">10 600</text>
<line x1="919" y1="151.5" x2="923" y2="151.5" stroke="#9badb9" stroke-width="1"/>
<text class="ax" x="926.1" y="156.8">10 700</text>
<line x1="919" y1="115.5" x2="923" y2="115.5" stroke="#9badb9" stroke-width="1"/>
<text class="ax" x="926.1" y="120.8">10 800</text>
<line x1="919" y1="80.5" x2="923" y2="80.5" stroke="#9badb9" stroke-width="1"/>
<text class="ax" x="926.1" y="85.8">10 900</text>
<line x1="919" y1="44.5" x2="923" y2="44.5" stroke="#9badb9" stroke-width="1"/>
<text class="axb" x="926.1" y="50.7">11 000</text>
</g>
<line x1="919" y1="102.5" x2="923.3" y2="102.5" stroke="#ff0000" stroke-width="1"/>
<line x1="919" y1="161.5" x2="923.3" y2="161.5" stroke="#ff0000" stroke-width="1"/>
<line x1="919" y1="184.3" x2="923.3" y2="184.3" stroke="#000" stroke-width="1.5"/>
<line x1="919" y1="200.5" x2="923.3" y2="200.5" stroke="#2458ff" stroke-width="1"/>
<line x1="919" y1="210.5" x2="923.3" y2="210.5" stroke="#22aa22" stroke-width="1"/>
<line x1="919" y1="278.5" x2="923.3" y2="278.5" stroke="#2aa52a" stroke-width="3"/>
<line x1="919" y1="292" x2="923.3" y2="292" stroke="#000" stroke-width="1.5"/>
<line x1="919" y1="376.5" x2="923.3" y2="376.5" stroke="#22aa22" stroke-width="1"/>
<line x1="919" y1="420" x2="923.3" y2="420" stroke="#22a522" stroke-width="2"/>
<rect x="923.5" y="90.5" width="73.0" height="23.0" fill="url(#gR)" stroke="#8c9daa" stroke-width="1"/>
<text class="pl" x="926.2" y="108.7" style="fill:#000;stroke:#000">10 836,2</text>
<rect x="923.5" y="204.5" width="73.0" height="23.0" fill="url(#gG)" stroke="#8c9daa" stroke-width="1"/>
<text class="pl" x="926.2" y="222.7" style="fill:#000;stroke:#000">10 534,6</text>
<rect x="923.5" y="188.5" width="73.0" height="23.0" fill="url(#gW)" stroke="#8c9daa" stroke-width="1"/>
<text class="pl" x="926.2" y="206.7" style="fill:#1030ff;stroke:#1030ff">10 561,5</text>
<rect x="923.5" y="172.5" width="73.0" height="23.0" fill="url(#gO)" stroke="#8c9daa" stroke-width="1"/>
<text class="pl" x="926.2" y="190.7" style="fill:#000;stroke:#000">10 607,2</text>
<rect x="923.5" y="149.5" width="73.0" height="23.0" fill="url(#gR)" stroke="#8c9daa" stroke-width="1"/>
<text class="pl" x="926.2" y="167.7" style="fill:#000;stroke:#000">10 671,9</text>
<rect x="923.5" y="284.5" width="73.0" height="23.0" fill="url(#gW)" stroke="#8c9daa" stroke-width="1"/>
<text class="pl" x="926.2" y="302.8" style="fill:#000;stroke:#000">10 305,2</text>
<rect x="923.5" y="262.5" width="73.0" height="22.0" fill="url(#gG)" stroke="#8c9daa" stroke-width="1"/>
<text class="pl" x="926.2" y="280.7" style="fill:#000;stroke:#000">10 344,7</text>
<rect x="923.5" y="364.5" width="73.0" height="23.0" fill="url(#gG)" stroke="#8c9daa" stroke-width="1"/>
<text class="pl" x="926.2" y="382.7" style="fill:#000;stroke:#000">10 069,3</text>
<rect x="923.5" y="408.5" width="63.0" height="23.0" fill="url(#gG)" stroke="#8c9daa" stroke-width="1"/>
<text class="pl" x="925.2" y="426.7" style="fill:#000;stroke:#000">9 943,8</text>
<rect x="1" y="1" width="999" height="26.5" fill="url(#gT)"/>
<line x1="1" y1="27.6" x2="1000" y2="27.6" stroke="#98a4ac" stroke-width="1.2"/>
<g stroke-width="1">
<line x1="6.5" y1="11" x2="6.5" y2="23" stroke="#c03030"/>
<rect x="3.5" y="14.5" width="6" height="6" fill="#f58a8a" stroke="#c03030"/>
<line x1="14.5" y1="7" x2="14.5" y2="23" stroke="#209020"/>
<rect x="11.5" y="10.5" width="6" height="9" fill="#7fe07f" stroke="#209020"/>
</g>
<text class="ttl" y="21.3" style="letter-spacing:0"><tspan x="23.2">US </tspan><tspan x="53.2">Dollar </tspan><tspan x="108.8" style="letter-spacing:0.14px">Basket </tspan><tspan x="174.2">(10$) </tspan><tspan x="220.6" style="letter-spacing:0.17px">Journalier </tspan><tspan x="314.2">10 </tspan><tspan x="338.8">607,2 </tspan><tspan x="389.4">-0,22 </tspan><tspan x="435.6">% </tspan><tspan x="456.5">2 </tspan><tspan x="471.2">nov. </tspan><tspan x="515.5">2023, </tspan><tspan x="564.9" style="letter-spacing:0.3px">07:48:58</tspan></text>
<text class="ttl" x="997.6" y="21.3" text-anchor="end" style="letter-spacing:0.2px">IT-Finance.com</text>
<rect x="0.5" y="27.5" width="279" height="25" fill="#e5edf4" stroke="#92a4b0" stroke-width="1"/>
<line x1="58.5" y1="28" x2="58.5" y2="52.5" stroke="#92a4b0"/>
<line x1="163.5" y1="28" x2="163.5" y2="52.5" stroke="#92a4b0"/>
<rect x="5" y="32" width="8" height="16" fill="#4fc94f"/><rect x="13" y="32" width="8" height="16" fill="#e06464"/>
<text class="lg" x="25.2" y="46">Prix</text>
<rect x="63" y="32" width="16" height="16" fill="#0a3cff"/>
<text class="lg" x="83.8" y="46">SMA (50)</text>
<rect x="168" y="32" width="16" height="16" fill="#000"/>
<text class="lg" x="188.5" y="46">SMA (200)</text>
<rect x="0.5" y="0.5" width="1000" height="468" fill="none" stroke="#969da3" stroke-width="1"/>
</svg>
</body></html>
